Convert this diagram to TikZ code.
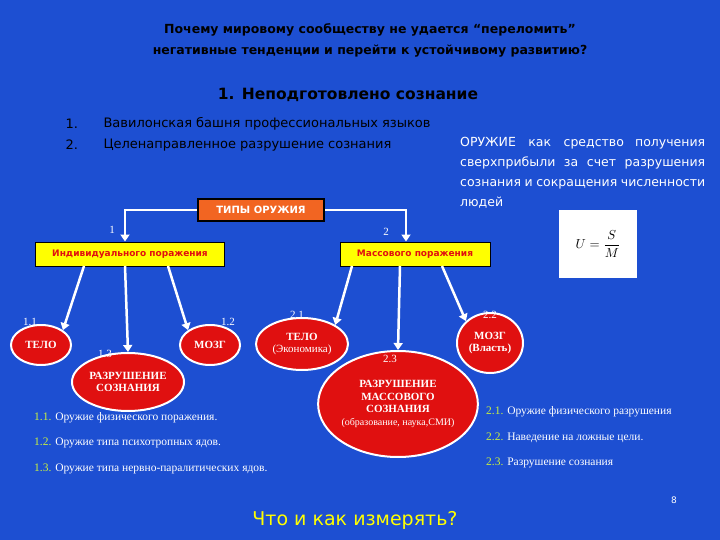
\documentclass[tikz,border=0pt]{standalone}
\usepackage{fontspec}
\setmainfont{Liberation Serif}
\newfontfamily\sans{DejaVu Sans}
\usetikzlibrary{arrows.meta,shapes.geometric}
\definecolor{bg}{HTML}{1D4FD2}
\definecolor{ored}{HTML}{E01010}
\definecolor{oorange}{HTML}{F26522}
\definecolor{yel}{HTML}{FFFF00}
\definecolor{lime}{HTML}{C8F040}
\begin{document}
\begin{tikzpicture}[x=1pt,y=-1pt,
  ell/.style={ellipse,draw=white,line width=2pt,fill=ored,text=white,font=\bfseries\fontsize{11}{12.5}\selectfont,align=center,inner sep=0pt},
  ybox/.style={draw=black,line width=1pt,fill=yel,text=ored,font=\sans\bfseries\fontsize{9}{10}\selectfont,minimum height=24,inner sep=2pt},
  arr/.style={draw=white,line width=2.5pt,-{Triangle[length=7pt,width=9pt]}},
  num/.style={text=white,font=\fontsize{11}{12}\selectfont},
  note/.style={text=white,font=\fontsize{11.5}{13}\selectfont,anchor=west,inner sep=0pt}]
\fill[bg] (0,0) rectangle (720,540);
\useasboundingbox (0,0) rectangle (720,540);
\node (t1) at (370,30) {\sans\bfseries\fontsize{12.5}{14}\selectfont Почему мировому сообществу не удается “переломить”};
\node (t2) at (370,51) {\sans\bfseries\fontsize{12.5}{14}\selectfont негативные тенденции и перейти к устойчивому развитию?};
\node (h) at (348,95) {\sans\bfseries\fontsize{15.5}{18}\selectfont 1. Неподготовлено сознание};
\node[anchor=west] (l1n) at (62,124) {\sans\fontsize{13}{15}\selectfont 1.};
\node[anchor=west] (l2n) at (62,145) {\sans\fontsize{13}{15}\selectfont 2.};
\node[anchor=west] (l1) at (100,124) {\sans\fontsize{13}{15}\selectfont Вавилонская башня профессиональных языков};
\node[anchor=west] (l2) at (100,145) {\sans\fontsize{13}{15}\selectfont Целенаправленное разрушение сознания};
\node[anchor=north west,text=white,text width=245,align=justify,inner sep=0pt,font=\sans\fontsize{12.5}{20}\selectfont] (rt) at (460,137) {ОРУЖИЕ\quad как\quad средство получения сверхприбыли за счет разрушения сознания и сокращения численности людей};
\node[fill=white,minimum width=60,minimum height=52,inner sep=0pt,scale=1.3] (f) at (598,244) {$\displaystyle U=\frac{S}{M}$};
\node[draw=black,line width=2pt,fill=oorange,text=white,minimum width=126,minimum height=22,font=\sans\bfseries\fontsize{10}{11}\selectfont] (tip) at (261,210) {ТИПЫ ОРУЖИЯ};
\node[ybox,minimum width=189] (ind) at (130,254) {Индивидуального поражения};
\node[ybox,minimum width=150] (mas) at (415,254) {Массового поражения};
\draw[arr] (tip.west) -| (ind.north -| 125,0);
\draw[arr] (tip.east) -| (mas.north -| 406,0);
\node[num] (n1) at (112,230) {1};
\node[num] (n2) at (386,232) {2};
\node[ell,minimum width=60,minimum height=40] (e11) at (41,345) {ТЕЛО};
\node[ell,minimum width=60,minimum height=40] (e12) at (210,345) {МОЗГ};
\node[ell,minimum width=112,minimum height=58] (e13) at (128,382) {РАЗРУШЕНИЕ\\СОЗНАНИЯ};
\node[ell,minimum width=92,minimum height=52] (e21) at (302,344) {ТЕЛО\\{\mdseries(Экономика)}};
\node[ell,minimum width=66,minimum height=60] (e22) at (490,343) {МОЗГ\\(Власть)};
\node[ell,minimum width=152,minimum height=106] (e23) at (398,404) {РАЗРУШЕНИЕ\\МАССОВОГО\\СОЗНАНИЯ\\{\mdseries\fontsize{10}{11}\selectfont(образование, наука,СМИ)}};
\coordinate (a1) at (84,266); \coordinate (a2) at (125,266); \coordinate (a3) at (168,266);
\coordinate (b1) at (352,266); \coordinate (b2) at (400,266); \coordinate (b3) at (442,266);
\draw[arr] (a1) -- (e11.north east);
\draw[arr] (a2) -- (e13.north);
\draw[arr] (a3) -- (e12.north west);
\draw[arr] (b1) -- (e21.north east);
\draw[arr] (b2) -- (e23.north);
\draw[arr] (b3) -- (e22.north west);
\node[num] (m11) at (30,322) {1.1};
\node[num] (m12) at (228,322) {1.2};
\node[num] (m13) at (105,354) {1.3};
\node[num] (m21) at (297,315) {2.1};
\node[num] (m22) at (490,315) {2.2};
\node[num] (m23) at (390,359) {2.3};
\node[note] (d11) at (34,418) {\textcolor{lime}{1.1.} Оружие физического поражения.};
\node[note] (d12) at (34,443) {\textcolor{lime}{1.2.} Оружие типа психотропных ядов.};
\node[note] (d13) at (34,469) {\textcolor{lime}{1.3.} Оружие типа нервно-паралитических ядов.};
\node[note] (d21) at (486,412) {\textcolor{lime}{2.1.} Оружие физического разрушения};
\node[note] (d22) at (486,438) {\textcolor{lime}{2.2.} Наведение на ложные цели.};
\node[note] (d23) at (486,463) {\textcolor{lime}{2.3.} Разрушение сознания};
\node[text=yel] (q) at (355,520) {\sans\fontsize{19}{22}\selectfont Что и как измерять?};
\node[text=white,font=\sans\fontsize{9}{10}\selectfont] (pg) at (674,500) {8};
\end{tikzpicture}
\end{document}
